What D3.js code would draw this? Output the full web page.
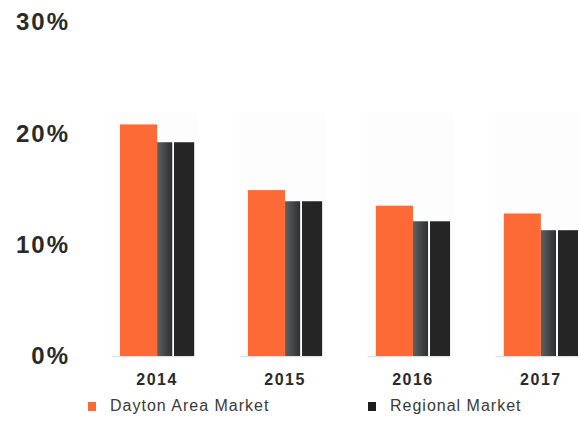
<!DOCTYPE html>
<html>
<head>
<meta charset="utf-8">
<script src="https://cdn.jsdelivr.net/npm/d3@7"></script>
<style>
  body { margin: 0; background: #fff; }
  svg { display: block; font-family: "Liberation Sans", Arial, sans-serif; }
  .yLabel { font-size: 24px; font-weight: bold; fill: #2a2a2a; letter-spacing: 2px; }
  .xLabel { font-size: 16px; font-weight: bold; fill: #2a2a2a; letter-spacing: 1.5px; }
  .legendText { font-size: 16px; fill: #3a3a3a; letter-spacing: 1px; }
</style>
</head>
<body>
<div id="chart"></div>
<script>
var svgWidth = 579;
var svgHeight = 431;

// chart values
var years = ["2014", "2015", "2016", "2017"];
var daytonValues = [20.8, 14.9, 13.5, 12.8];
var regionalValues = [19.2, 13.9, 12.1, 11.3];
var seriesNames = ["Dayton Area Market", "Regional Market"];
var yTicks = [0, 10, 20, 30];

var margin = { top: 22, right: 1, bottom: 75, left: 120 };
var width = svgWidth - margin.left - margin.right;
var height = svgHeight - margin.top - margin.bottom;

var svg = d3.select("#chart")
    .append("svg")
    .attr("width", svgWidth)
    .attr("height", svgHeight);

// gradient for the regional bars (grey face + dark side)
var defs = svg.append("defs");
var grad = defs.append("linearGradient")
    .attr("id", "regionalGrad")
    .attr("x1", "0%").attr("x2", "100%").attr("y1", "0%").attr("y2", "0%");
grad.append("stop").attr("offset", "0%").attr("stop-color", "#5b6162");
grad.append("stop").attr("offset", "40%").attr("stop-color", "#2f3030");
grad.append("stop").attr("offset", "42%").attr("stop-color", "#ffffff");
grad.append("stop").attr("offset", "45%").attr("stop-color", "#ffffff");
grad.append("stop").attr("offset", "45%").attr("stop-color", "#262626");
grad.append("stop").attr("offset", "100%").attr("stop-color", "#242424");

var chartGroup = svg.append("g")
    .attr("transform", `translate(${margin.left}, ${margin.top})`);

var xScale = d3.scaleBand()
    .domain(years)
    .range([0, width])
    .paddingInner(0.42)
    .paddingOuter(0);

var xSub = d3.scaleBand()
    .domain(seriesNames)
    .range([0, xScale.bandwidth()]);

var yScale = d3.scaleLinear()
    .domain([0, 30])
    .range([height, 0]);

var data = years.map(function (y, i) {
    return { year: y, values: [daytonValues[i], regionalValues[i]] };
});

// faint background panels behind each group
chartGroup.selectAll(".panel")
    .data(data)
    .enter()
    .append("rect")
    .attr("x", d => xScale(d.year) - 10)
    .attr("y", yScale(d3.max(daytonValues)) - 12)
    .attr("width", xScale.bandwidth() + 14)
    .attr("height", d => height - yScale(d3.max(daytonValues)) + 16)
    .attr("fill", "#fdfdfd");

// y axis labels
chartGroup.selectAll(".yLabel")
    .data(yTicks)
    .enter()
    .append("text")
    .attr("class", "yLabel")
    .attr("x", -50)
    .attr("y", d => yScale(d) + 2)
    .attr("text-anchor", "end")
    .attr("dominant-baseline", "middle")
    .text(d => d + "%");

var groups = chartGroup.selectAll(".year")
    .data(data)
    .enter()
    .append("g")
    .attr("transform", d => `translate(${xScale(d.year)}, 0)`);

// faint baseline under each group
groups.append("line")
    .attr("x1", -8)
    .attr("x2", xScale.bandwidth())
    .attr("y1", height + 0.5)
    .attr("y2", height + 0.5)
    .attr("stroke", "#dde2ea")
    .attr("stroke-width", 1.5);

groups.selectAll("rect")
    .data(d => d.values.map((v, i) => ({ series: seriesNames[i], value: v })))
    .enter()
    .append("rect")
    .attr("x", d => xSub(d.series))
    .attr("y", d => yScale(d.value))
    .attr("width", xSub.bandwidth())
    .attr("height", d => height - yScale(d.value))
    .attr("fill", d => d.series === seriesNames[0] ? "#fd6a35" : "url(#regionalGrad)");

// x axis labels
groups.append("text")
    .attr("class", "xLabel")
    .attr("x", xScale.bandwidth() / 2)
    .attr("y", height + 29)
    .attr("text-anchor", "middle")
    .text(d => d.year);

// legend
var legendX = [88, 368];
var legendColors = ["#fd6a35", "#1e1e1e"];
var legend = svg.selectAll(".legend")
    .data(seriesNames)
    .enter()
    .append("g")
    .attr("transform", (d, i) => `translate(${legendX[i]}, 402)`);

legend.append("rect")
    .attr("width", 8)
    .attr("height", 9)
    .attr("fill", (d, i) => legendColors[i]);

legend.append("text")
    .attr("class", "legendText")
    .attr("x", 22)
    .attr("y", 5)
    .attr("dominant-baseline", "middle")
    .text(d => d);
</script>
</body>
</html>
